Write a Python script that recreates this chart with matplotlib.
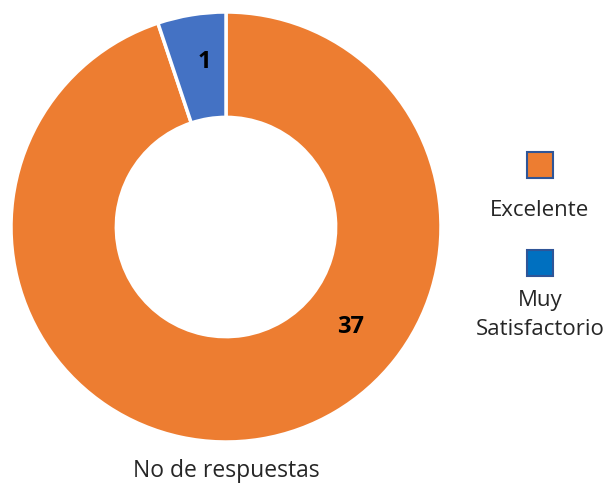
import numpy as np
import matplotlib
matplotlib.use("Agg")
import matplotlib.pyplot as plt
from matplotlib.patches import Rectangle

plt.rcParams["font.family"] = ["Open Sans", "DejaVu Sans"]

# categorías y valores
CATEGORIES = ["Excelente", "Muy Satisfactorio"]
LEGEND_TEXT = ["Excelente", "Muy\nSatisfactorio"]
# tamaño de los sectores tal como se ve en el gráfico (el azul ocupa ~18.5°)
SHARES = [37, 2]
# etiquetas de datos que muestra el gráfico
DATA_LABELS = ["37", "1"]
COLORS = ["#ED7D31", "#4472C4"]
LEGEND_COLORS = ["#ED7D31", "#0070C0"]
TITLE = "No de respuestas"

W, H = 607, 485
fig = plt.figure(figsize=(W / 100, H / 100), dpi=100)

cx, cy, r = 226, 228, 215
ax = fig.add_axes([(cx - r) / W, (H - cy - r) / H, 2 * r / W, 2 * r / H])
wedges, _ = ax.pie(
    SHARES, colors=COLORS, startangle=90, counterclock=False, radius=1.0,
    wedgeprops=dict(width=0.49, edgecolor="white", linewidth=2.5),
)
for w in wedges:
    w.set_clip_on(False)
ax.set_xlim(-1, 1)
ax.set_ylim(-1, 1)
ax.set_aspect("equal")
ax.axis("off")

# etiquetas: ángulo (grados en sentido horario desde las 12) y radio
label_pos = [(128.6, 0.74), (352.5, 0.78)]
for txt, (ang, rad) in zip(DATA_LABELS, label_pos):
    a = np.deg2rad(90 - ang)
    ax.text(rad * np.cos(a), rad * np.sin(a), txt, ha="center", va="center",
            fontsize=17, fontweight="bold", color="black")

# leyenda: cuadros arriba, texto debajo
sq = 26
for i, ysq in enumerate([166, 264]):
    fig.add_artist(Rectangle(((540 - sq / 2) / W, (H - ysq - sq / 2) / H), sq / W, sq / H,
                             facecolor=LEGEND_COLORS[i], edgecolor="#2F5597", linewidth=1.5,
                             transform=fig.transFigure))
legend_y = [211, 315]
for t, y in zip(LEGEND_TEXT, legend_y):
    fig.text(540 / W, (H - y) / H, t, ha="center", va="center", fontsize=16,
             color="#262626", linespacing=1.5)

fig.text(226 / W, (H - 471) / H, TITLE, ha="center", va="center", fontsize=16.5, color="#262626")

fig.savefig("out.png", dpi=100)
